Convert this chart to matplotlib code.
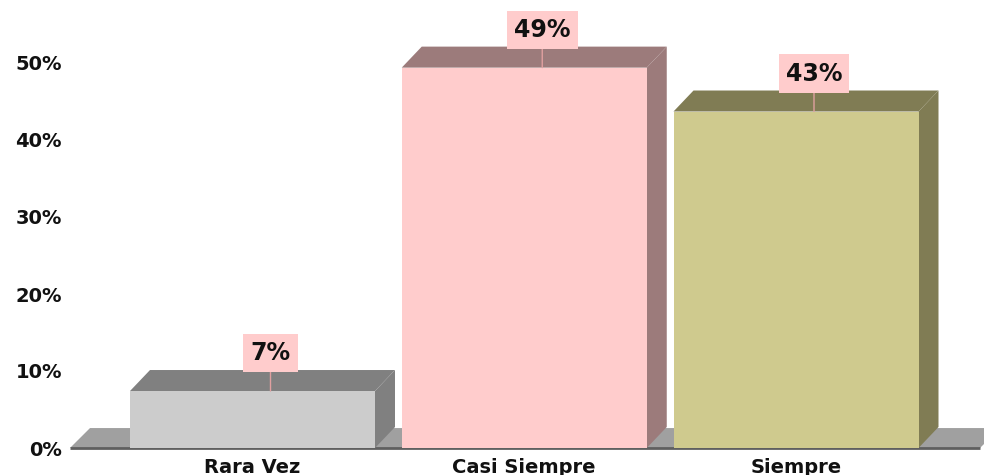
import matplotlib
matplotlib.use("Agg")
import matplotlib.pyplot as plt
from matplotlib.patches import Polygon

categories = ["Rara Vez", "Casi Siempre", "Siempre"]
values = [7.4, 49.4, 43.7]
value_labels = ["7%", "49%", "43%"]
yticks = [0, 10, 20, 30, 40, 50]
ytick_labels = ["0%", "10%", "20%", "30%", "40%", "50%"]

front_colors = ["#cccccc", "#ffcccc", "#cfca8e"]
side_colors = ["#808080", "#9c7b7b", "#807c54"]

W, H = 984, 475
fig = plt.figure(figsize=(W / 100, H / 100), dpi=100)
ax_left_px, ax_right_px = 70, 980
ax_bottom_px = 27
ax = fig.add_axes([ax_left_px / W, ax_bottom_px / H, (ax_right_px - ax_left_px) / W, (H - ax_bottom_px) / H])

px_per_pct = 7.7
ymax = (H - ax_bottom_px) / px_per_pct
unit_px = 271.75
x0 = -(252.5 - ax_left_px) / unit_px
x1 = x0 + (ax_right_px - ax_left_px) / unit_px
ax.set_xlim(x0, x1)
ax.set_ylim(0, ymax)

dx = 20 / unit_px
dy = 21 / px_per_pct
bw = 245 / unit_px

# floor
floor = Polygon([(x0, 0), (x1, 0), (x1 + dx, dy * 0.95), (x0 + dx, dy * 0.95)],
                closed=True, facecolor="#a0a0a0", edgecolor="none", clip_on=False, zorder=1)
ax.add_patch(floor)
ax.plot([x0, x1], [0, 0], color="#5f5f5f", lw=2, solid_capstyle="butt", clip_on=False, zorder=1.5)

for i, (v, fc, sc) in enumerate(zip(values, front_colors, side_colors)):
    l, r = i - bw / 2, i + bw / 2
    side = Polygon([(r, 0), (r + dx, dy), (r + dx, v + dy), (r, v)], closed=True,
                   facecolor=sc, edgecolor="none", clip_on=False, zorder=2 + i)
    top = Polygon([(l, v), (r, v), (r + dx, v + dy), (l + dx, v + dy)], closed=True,
                  facecolor=sc, edgecolor="none", clip_on=False, zorder=2 + i)
    front = Polygon([(l, 0), (r, 0), (r, v), (l, v)], closed=True,
                    facecolor=fc, edgecolor="none", clip_on=False, zorder=2.1 + i)
    for p in (side, top, front):
        ax.add_patch(p)
    ax.annotate(value_labels[i], xy=(i + dx * 0.9, v), xytext=(0, 38), textcoords="offset pixels",
                ha="center", va="center", fontsize=17, fontweight="bold", color="#111111",
                bbox=dict(boxstyle="square,pad=0.3", facecolor="#ffcccc", edgecolor="none"),
                arrowprops=dict(arrowstyle="-", color="#e0a0a0", lw=1, shrinkA=0, shrinkB=0),
                zorder=10, annotation_clip=False)

ax.set_yticks(yticks)
ax.set_yticklabels(ytick_labels)
ax.set_xticks(range(len(categories)))
ax.set_xticklabels(categories)
ax.tick_params(axis="y", length=0, pad=5.8, labelsize=14)
ax.tick_params(axis="x", length=0, pad=7, labelsize=14)
for lab in ax.get_xticklabels() + ax.get_yticklabels():
    lab.set_fontweight("bold")
    lab.set_color("#111111")
for s in ax.spines.values():
    s.set_visible(False)
ax.patch.set_alpha(0)

fig.savefig("out.png", dpi=100, facecolor="white")
